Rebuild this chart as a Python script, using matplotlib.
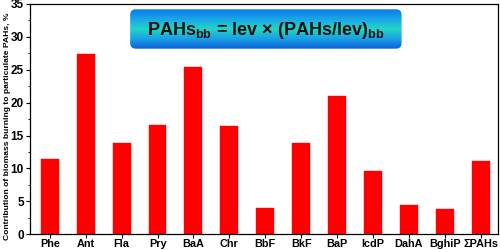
import numpy as np
import matplotlib
matplotlib.use("Agg")
import matplotlib.pyplot as plt
from matplotlib.patches import FancyBboxPatch
from matplotlib.colors import LinearSegmentedColormap

plt.rcParams['font.family'] = ['Liberation Sans', 'DejaVu Sans']
plt.rcParams['font.weight'] = 'bold'
plt.rcParams['mathtext.fontset'] = 'custom'
plt.rcParams['mathtext.rm'] = 'Liberation Sans:bold'
plt.rcParams['mathtext.bf'] = 'Liberation Sans:bold'
plt.rcParams['mathtext.it'] = 'Liberation Sans:bold'

# data
compounds = ['Phe', 'Ant', 'Fla', 'Pry', 'BaA', 'Chr', 'BbF', 'BkF',
             'BaP', 'IcdP', 'DahA', 'BghiP', 'ΣPAHs']
contribution = [11.4, 27.4, 13.8, 16.6, 25.4, 16.4, 4.0, 13.9,
                21.0, 9.6, 4.5, 3.8, 11.1]
yticks = [0, 5, 10, 15, 20, 25, 30, 35]

fig = plt.figure(figsize=(5, 2.5), dpi=100)
ax = fig.add_axes([0.06, 0.063, 0.936, 0.921])

x = np.arange(len(compounds))
ax.bar(x, contribution, width=0.5, color='#ff0000', edgecolor='#ff0000', linewidth=0.3)

ax.set_xlim(-0.55, len(compounds) - 1 + 0.48)
ax.set_ylim(0, 35)
ax.set_xticks(x)
ax.set_xticklabels(compounds, fontsize=7.8, fontweight='bold')
ax.set_yticks(yticks)
ax.set_yticklabels([str(v) for v in yticks], fontsize=8.5, fontweight='bold')
ax.set_yticks(np.arange(2.5, 35, 5), minor=True)
ax.tick_params(axis='both', direction='out', length=3, width=0.8, pad=1.5)
ax.tick_params(axis='x', pad=0.5)
ax.tick_params(axis='y', which='minor', direction='out', length=1.5, width=0.6)
for s in ax.spines.values():
    s.set_linewidth(0.9)

ax.set_ylabel('Contribution of biomass burning to particulate PAHs, %',
              fontsize=6.1, fontweight='bold', labelpad=2)
ax.yaxis.set_label_coords(-0.041, 0.47)

# gradient rounded box with the formula
bx0, by0, bw, bh = 0.214, 0.806, 0.58, 0.171
box = FancyBboxPatch((bx0, by0), bw, bh, boxstyle='round,pad=0,rounding_size=0.012',
                     mutation_aspect=468 / 230,
                     transform=ax.transAxes, facecolor='none', edgecolor='none', zorder=3)
ax.add_patch(box)
cmap = LinearSegmentedColormap.from_list('bx', ['#0b62d6', '#1a9fe6', '#22d6c4', '#1aa6ea', '#0a7ce6'])
grad = np.linspace(0, 1, 100).reshape(-1, 1)
im = ax.imshow(grad, cmap=cmap, aspect='auto', origin='lower',
               extent=[bx0, bx0 + bw, by0, by0 + bh], transform=ax.transAxes,
               zorder=3, interpolation='bilinear')
im.set_clip_path(box)
ax.set_xlim(-0.55, len(compounds) - 1 + 0.48)
ax.set_ylim(0, 35)

ax.text(bx0 + bw / 2, by0 + bh / 2 - 0.005,
        r'PAHs$_{\mathrm{bb}}$ = lev × (PAHs/lev)$_{\mathrm{bb}}$',
        transform=ax.transAxes, ha='center', va='center',
        fontsize=13, fontweight='bold', color='#101010', zorder=4)

fig.savefig('out.png', dpi=100)
